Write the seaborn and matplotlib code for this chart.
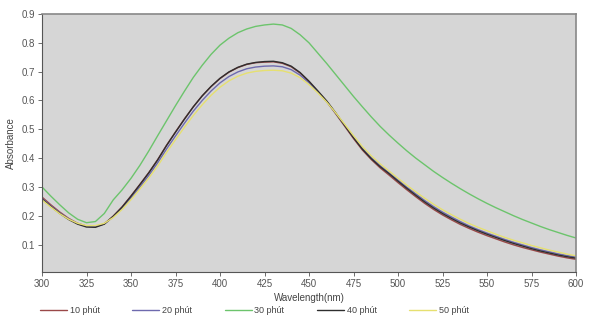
import numpy as np
import pandas as pd
import matplotlib
matplotlib.use("Agg")
import matplotlib.pyplot as plt
import seaborn as sns

wavelength = list(range(300, 601, 5))

a10 = [.265, .238, .213, .191, .174, .164, .162, .172, .199, .231, .269, .309, .350, .395, .445, .491,
       .536, .578, .616, .648, .676, .698, .714, .725, .731, .733, .734, .729, .717, .695, .665, .631,
       .596, .554, .511, .468, .428, .395, .366, .341, .315, .290, .266, .243, .222, .203, .186, .170,
       .156, .143, .131, .120, .109, .099, .090, .082, .074, .067, .060, .054, .049]
a20 = [.260, .234, .210, .189, .173, .164, .163, .172, .196, .226, .262, .300, .340, .384, .432, .477,
       .521, .563, .600, .633, .661, .683, .699, .710, .716, .719, .720, .717, .707, .688, .661, .629,
       .595, .556, .515, .474, .435, .402, .374, .349, .324, .299, .276, .253, .232, .213, .196, .180,
       .165, .152, .140, .129, .118, .108, .099, .090, .082, .075, .068, .062, .057]
a30 = [.300, .268, .238, .210, .188, .176, .180, .208, .255, .290, .330, .375, .425, .478, .530, .582,
       .632, .680, .722, .760, .792, .816, .835, .848, .857, .862, .865, .862, .850, .828, .800, .764,
       .728, .690, .652, .614, .578, .543, .510, .480, .452, .425, .400, .377, .354, .333, .313, .294,
       .276, .259, .243, .228, .214, .200, .187, .175, .163, .152, .142, .132, .123]
a40 = [.258, .232, .208, .187, .171, .161, .160, .171, .198, .230, .268, .308, .349, .394, .444, .490,
       .535, .578, .616, .649, .677, .699, .715, .726, .732, .735, .736, .731, .719, .697, .667, .633,
       .598, .557, .514, .471, .431, .398, .370, .346, .320, .295, .271, .248, .227, .208, .191, .175,
       .161, .148, .136, .125, .114, .104, .095, .086, .078, .071, .064, .058, .053]
a50 = [.255, .230, .207, .188, .174, .166, .166, .174, .194, .222, .256, .293, .331, .373, .420, .464,
       .507, .548, .585, .618, .646, .668, .684, .695, .701, .704, .705, .703, .695, .679, .655, .626,
       .594, .557, .518, .478, .440, .408, .380, .355, .330, .306, .283, .261, .240, .221, .204, .188,
       .173, .160, .148, .136, .125, .115, .106, .097, .089, .081, .074, .067, .061]

series_names = ["10 phút", "20 phút", "30 phút", "40 phút", "50 phút"]
series_vals = [a10, a20, a30, a40, a50]
colors = ["#9a4848", "#6e6aae", "#6cc46c", "#2e2e2e", "#e6e070"]

xticks = list(range(300, 601, 25))
yticks = [0.1, 0.2, 0.3, 0.4, 0.5, 0.6, 0.7, 0.8, 0.9]

df = pd.concat([pd.DataFrame({"Wavelength": wavelength, "Absorbance": v, "Series": n})
                for n, v in zip(series_names, series_vals)], ignore_index=True)

sns.set_theme(style="white")
plt.rcParams["font.family"] = ["Liberation Sans", "DejaVu Sans"]

fig = plt.figure(figsize=(5.96, 3.23), dpi=100)
ax = fig.add_axes([42/596, 1-272/323, (576-42)/596, (272-14)/323])
ax.set_facecolor("#d6d6d6")

sns.lineplot(data=df, x="Wavelength", y="Absorbance", hue="Series",
             palette=dict(zip(series_names, colors)), ax=ax, linewidth=1.0,
             legend=False, sort=False)

ax.set_xlim(300, 600)
ax.set_ylim(0.005, 0.9)
ax.set_xticks(xticks)
ax.set_yticks(yticks)
ax.set_yticklabels([f"{t:.1f}" for t in yticks])
ax.tick_params(axis="both", labelsize=7, colors="#555555", length=3, width=0.6, direction="out", pad=2)
ax.tick_params(left=True, bottom=True)
for s in ["left", "bottom"]:
    ax.spines[s].set_color("#555555")
    ax.spines[s].set_linewidth(0.8)
for s in ["top", "right"]:
    ax.spines[s].set_color("#888888")
    ax.spines[s].set_linewidth(1.2)
ax.set_xlabel("Wavelength(nm)", fontsize=7, color="#444444", labelpad=3)
ax.set_ylabel("Absorbance", fontsize=7, color="#444444", labelpad=4)

handles = ax.get_lines()[:5]
fig.legend(handles, series_names, loc="center left", bbox_to_anchor=(0.067, 0.038),
           ncol=5, frameon=False, fontsize=6.5, handlelength=3.0, handletextpad=0.3,
           columnspacing=3.6, borderpad=0, borderaxespad=0, labelcolor="#444444")

fig.savefig("out.png", dpi=100, facecolor="white")
